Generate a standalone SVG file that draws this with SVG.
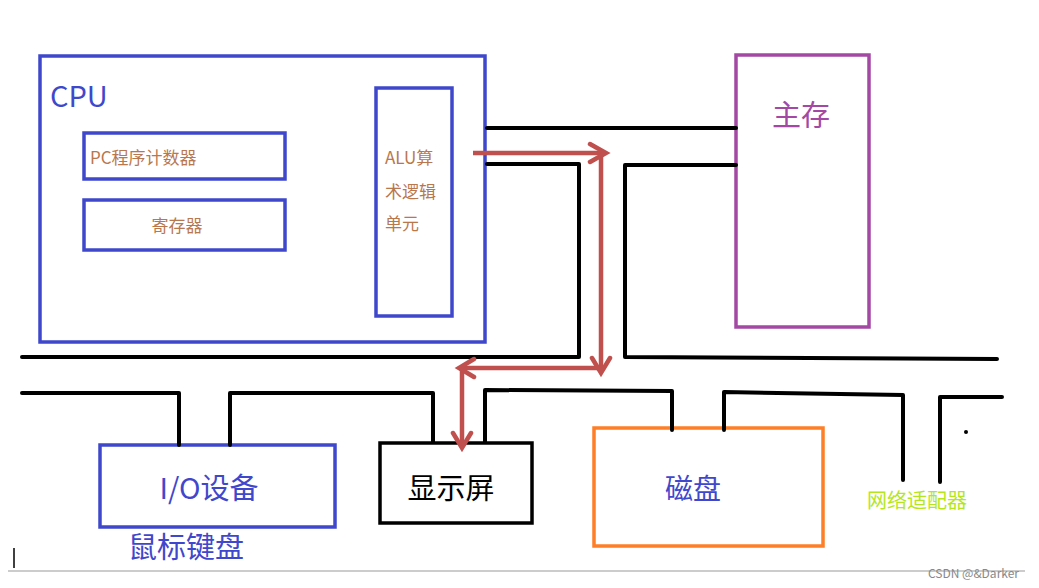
<svg xmlns="http://www.w3.org/2000/svg" width="1039" height="588" viewBox="0 0 1039 588">
<style>
.b{fill:none;stroke:#3f48cc;stroke-width:3.5}
.w{fill:none;stroke:#000;stroke-width:4;stroke-linejoin:round;stroke-linecap:round}
.r{fill:none;stroke:#c0504d;stroke-width:4.5}
.ah{fill:none;stroke:#c0504d;stroke-width:4.5;stroke-linecap:round}
text{font-family:"Noto Sans CJK SC","Noto Sans",sans-serif}
.br{fill:#b9774d;font-size:17px}
</style>
<rect width="1039" height="588" fill="#fff"/>
<g id="cpu"><rect class="b" x="40" y="56" width="445" height="286"/><text x="50" y="107" font-size="29" fill="#3f48cc">CPU</text></g>
<g id="pc"><rect class="b" x="84" y="133" width="201" height="46"/><text class="br" x="90" y="164">PC程序计数器</text></g>
<g id="reg"><rect class="b" x="84" y="200" width="201" height="50"/><text class="br" x="177" y="232" text-anchor="middle">寄存器</text></g>
<g id="alu"><rect class="b" x="376" y="88" width="76" height="228"/><text class="br" x="385" y="164">ALU算</text><text class="br" x="385" y="198">术逻辑</text><text class="br" x="385" y="230">单元</text></g>
<g id="mem"><rect x="736" y="55" width="133" height="272" fill="none" stroke="#a349a4" stroke-width="3.5"/><text x="772" y="126" font-size="29" fill="#a349a4">主存</text></g>
<g id="io"><rect class="b" x="100" y="445" width="235" height="82"/><text x="209" y="499" font-size="29" fill="#3f48cc" text-anchor="middle">I/O设备</text></g>
<g id="disp"><rect x="380" y="443" width="152" height="80" fill="none" stroke="#000" stroke-width="3.5"/><text x="451" y="499" font-size="29" fill="#000" text-anchor="middle">显示屏</text></g>
<g id="disk"><rect x="594" y="428" width="229" height="118" fill="none" stroke="#ff7f27" stroke-width="3.5"/><text x="693" y="499" font-size="28" fill="#3f48cc" text-anchor="middle">磁盘</text></g>
<g id="net"><text x="867" y="508" font-size="20" fill="#b5e61d">网络适配器</text></g>
<text x="128" y="558" font-size="29" fill="#3f48cc">鼠标键盘</text>
<g id="connectors">
<path class="w" d="M487 128H736M487 164H579V357H22M736 165H625V357L997 359"/>
<path class="w" d="M22 393H179V445M230 445V393H433V442M485 442V390L672 391V430M724 430V392L903 395V480M940 482V397H1002"/>
<circle cx="966" cy="432" r="2"/>
<path class="r" d="M473 153H605M601 153V372M605 368H460M462 368V447"/>
<path class="ah" d="M590 144L606 153L590 162M592 358L601 373L610 358M474 359L459 368L474 377M453 433L462 448L471 433"/>
</g>
<line x1="14" y1="548" x2="14" y2="568" stroke="#000" stroke-width="1.5"/>
<line x1="8" y1="571" x2="1025" y2="571" stroke="#999" stroke-width="1"/>
<text x="928" y="578" font-size="12" fill="#888" font-family="Liberation Sans,sans-serif">CSDN @&amp;Darker</text>
</svg>
